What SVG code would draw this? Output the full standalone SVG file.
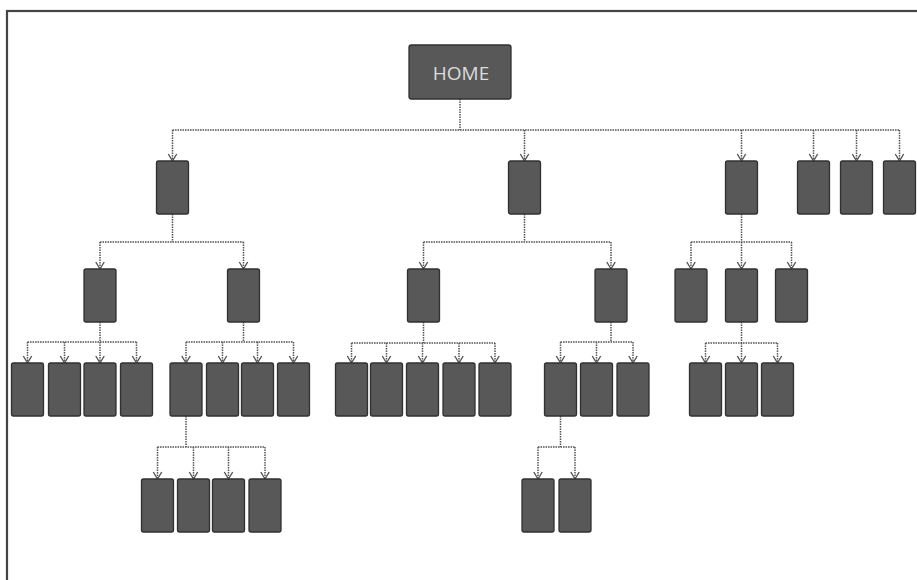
<svg xmlns="http://www.w3.org/2000/svg" width="917" height="580" viewBox="0 0 917 580">
  <style>
    .frame { fill: none; stroke: #444444; stroke-width: 2.2; }
    .box { fill: #585858; stroke: #303030; stroke-width: 1.3; }
    .link { fill: none; stroke: #555555; stroke-width: 1.5; stroke-dasharray: 1.6 0.9; }
    .drop { fill: none; stroke: #555555; stroke-width: 1.5; stroke-dasharray: 1.6 0.9; marker-end: url(#arrow); }
    .label { font-family: "Open Sans", "Liberation Sans", sans-serif; font-size: 19px; fill: #dcdcdc; text-anchor: middle; }
  </style>
  <defs>
    <!-- open chevron head, drawn pointing along +x so orient="auto" follows the line -->
    <marker id="arrow" markerUnits="userSpaceOnUse" markerWidth="10" markerHeight="12" refX="8" refY="5" orient="auto" viewBox="0 0 10 10">
      <path d="M1,0.8 L8,5 L1,9.2" fill="none" stroke="#555555" stroke-width="1.4"/>
    </marker>
  </defs>

  <rect width="917" height="580" fill="#ffffff"/>
  <rect class="frame" x="7" y="11" width="930" height="600"/>

  <!-- connectors -->
  <g id="connectors">
    <!-- home -->
    <path class="link" d="M460,99 V130 M172.5,130 H899.5"/>
    <path class="drop" d="M172.5,130 V161"/>
    <path class="drop" d="M524.5,130 V161"/>
    <path class="drop" d="M741.5,130 V161"/>
    <path class="drop" d="M813.5,130 V161"/>
    <path class="drop" d="M856.5,130 V161"/>
    <path class="drop" d="M899.5,130 V161"/>

    <!-- section A -->
    <path class="link" d="M172.5,214 V242 M100,242 H243.5"/>
    <path class="drop" d="M100,242 V269"/>
    <path class="drop" d="M243.5,242 V269"/>

    <!-- section B -->
    <path class="link" d="M524.5,214 V242 M423.5,242 H611"/>
    <path class="drop" d="M423.5,242 V269"/>
    <path class="drop" d="M611,242 V269"/>

    <!-- section C -->
    <path class="link" d="M741.5,214 V242 M691,242 H791.5"/>
    <path class="drop" d="M691,242 V269"/>
    <path class="drop" d="M741.5,242 V269"/>
    <path class="drop" d="M791.5,242 V269"/>

    <!-- A1 children -->
    <path class="link" d="M100,322 V342 M27.5,342 H136.5"/>
    <path class="drop" d="M27.5,342 V363"/>
    <path class="drop" d="M64.5,342 V363"/>
    <path class="drop" d="M100,342 V363"/>
    <path class="drop" d="M136.5,342 V363"/>

    <!-- A2 children -->
    <path class="link" d="M243.5,322 V342 M186,342 H293.5"/>
    <path class="drop" d="M186,342 V363"/>
    <path class="drop" d="M222.5,342 V363"/>
    <path class="drop" d="M257.5,342 V363"/>
    <path class="drop" d="M293.5,342 V363"/>

    <!-- B1 children -->
    <path class="link" d="M423.5,322 V343 M351.5,343 H495"/>
    <path class="drop" d="M351.5,343 V363"/>
    <path class="drop" d="M386.5,343 V363"/>
    <path class="drop" d="M422.5,343 V363"/>
    <path class="drop" d="M459,343 V363"/>
    <path class="drop" d="M495,343 V363"/>

    <!-- B2 children -->
    <path class="link" d="M611,322 V342 M560.5,342 H633"/>
    <path class="drop" d="M560.5,342 V363"/>
    <path class="drop" d="M596.5,342 V363"/>
    <path class="drop" d="M633,342 V363"/>

    <!-- C2 children -->
    <path class="link" d="M741.5,322 V343 M705.5,343 H777.5"/>
    <path class="drop" d="M705.5,343 V363"/>
    <path class="drop" d="M741.5,343 V363"/>
    <path class="drop" d="M777.5,343 V363"/>

    <!-- A2a children -->
    <path class="link" d="M186,416 V447 M157.5,447 H265"/>
    <path class="drop" d="M157.5,447 V479"/>
    <path class="drop" d="M193.5,447 V479"/>
    <path class="drop" d="M228.5,447 V479"/>
    <path class="drop" d="M265,447 V479"/>

    <!-- B2a children -->
    <path class="link" d="M560.5,416 V447 M538,447 H575"/>
    <path class="drop" d="M538,447 V479"/>
    <path class="drop" d="M575,447 V479"/>
  </g>

  <!-- root -->
  <g id="home">
    <rect class="box" x="409" y="45" width="102" height="54" rx="2.5"/>
    <text class="label" x="461" y="80">HOME</text>
  </g>

  <!-- level 1 -->
  <g id="n-a"><rect class="box" x="156.5" y="161" width="32" height="53" rx="2"/></g>
  <g id="n-b"><rect class="box" x="508.5" y="161" width="32" height="53" rx="2"/></g>
  <g id="n-c"><rect class="box" x="725.5" y="161" width="32" height="53" rx="2"/></g>
  <g id="n-d"><rect class="box" x="797.5" y="161" width="32" height="53" rx="2"/></g>
  <g id="n-e"><rect class="box" x="840.5" y="161" width="32" height="53" rx="2"/></g>
  <g id="n-f"><rect class="box" x="883.5" y="161" width="32" height="53" rx="2"/></g>

  <!-- level 2 -->
  <g id="n-a1"><rect class="box" x="84" y="269" width="32" height="53" rx="2"/></g>
  <g id="n-a2"><rect class="box" x="227.5" y="269" width="32" height="53" rx="2"/></g>
  <g id="n-b1"><rect class="box" x="407.5" y="269" width="32" height="53" rx="2"/></g>
  <g id="n-b2"><rect class="box" x="595" y="269" width="32" height="53" rx="2"/></g>
  <g id="n-c1"><rect class="box" x="675" y="269" width="32" height="53" rx="2"/></g>
  <g id="n-c2"><rect class="box" x="725.5" y="269" width="32" height="53" rx="2"/></g>
  <g id="n-c3"><rect class="box" x="775.5" y="269" width="32" height="53" rx="2"/></g>

  <!-- level 3 -->
  <g id="n-a1a"><rect class="box" x="11.5" y="363" width="32" height="53" rx="2"/></g>
  <g id="n-a1b"><rect class="box" x="48.5" y="363" width="32" height="53" rx="2"/></g>
  <g id="n-a1c"><rect class="box" x="84" y="363" width="32" height="53" rx="2"/></g>
  <g id="n-a1d"><rect class="box" x="120.5" y="363" width="32" height="53" rx="2"/></g>

  <g id="n-a2a"><rect class="box" x="170" y="363" width="32" height="53" rx="2"/></g>
  <g id="n-a2b"><rect class="box" x="206.5" y="363" width="32" height="53" rx="2"/></g>
  <g id="n-a2c"><rect class="box" x="241.5" y="363" width="32" height="53" rx="2"/></g>
  <g id="n-a2d"><rect class="box" x="277.5" y="363" width="32" height="53" rx="2"/></g>

  <g id="n-b1a"><rect class="box" x="335.5" y="363" width="32" height="53" rx="2"/></g>
  <g id="n-b1b"><rect class="box" x="370.5" y="363" width="32" height="53" rx="2"/></g>
  <g id="n-b1c"><rect class="box" x="406.5" y="363" width="32" height="53" rx="2"/></g>
  <g id="n-b1d"><rect class="box" x="443" y="363" width="32" height="53" rx="2"/></g>
  <g id="n-b1e"><rect class="box" x="479" y="363" width="32" height="53" rx="2"/></g>

  <g id="n-b2a"><rect class="box" x="544.5" y="363" width="32" height="53" rx="2"/></g>
  <g id="n-b2b"><rect class="box" x="580.5" y="363" width="32" height="53" rx="2"/></g>
  <g id="n-b2c"><rect class="box" x="617" y="363" width="32" height="53" rx="2"/></g>

  <g id="n-c2a"><rect class="box" x="689.5" y="363" width="32" height="53" rx="2"/></g>
  <g id="n-c2b"><rect class="box" x="725.5" y="363" width="32" height="53" rx="2"/></g>
  <g id="n-c2c"><rect class="box" x="761.5" y="363" width="32" height="53" rx="2"/></g>

  <!-- level 4 -->
  <g id="n-a2a1"><rect class="box" x="141.5" y="479" width="32" height="53" rx="2"/></g>
  <g id="n-a2a2"><rect class="box" x="177.5" y="479" width="32" height="53" rx="2"/></g>
  <g id="n-a2a3"><rect class="box" x="212.5" y="479" width="32" height="53" rx="2"/></g>
  <g id="n-a2a4"><rect class="box" x="249" y="479" width="32" height="53" rx="2"/></g>

  <g id="n-b2a1"><rect class="box" x="522" y="479" width="32" height="53" rx="2"/></g>
  <g id="n-b2a2"><rect class="box" x="559" y="479" width="32" height="53" rx="2"/></g>
</svg>
